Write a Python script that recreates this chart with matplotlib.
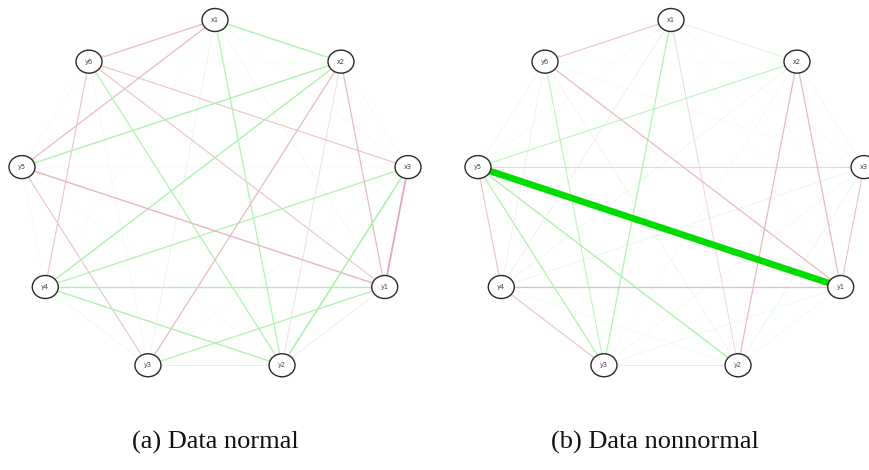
import numpy as np
import matplotlib
matplotlib.use("Agg")
import matplotlib.pyplot as plt
from matplotlib.patches import Ellipse

# ---- data ----
nodes = ["x1", "x2", "x3", "y1", "y2", "y3", "y4", "y5", "y6"]

edge_from = ["x1", "x1", "x1", "x1", "x1", "x1", "x1", "x1",
             "x2", "x2", "x2", "x2", "x2", "x2", "x2",
             "x3", "x3", "x3", "x3", "x3", "x3",
             "y1", "y1", "y1", "y1", "y1",
             "y2", "y2", "y2", "y2",
             "y3", "y3", "y3",
             "y4", "y4",
             "y5"]
edge_to = ["x2", "x3", "y1", "y2", "y3", "y4", "y5", "y6",
           "x3", "y1", "y2", "y3", "y4", "y5", "y6",
           "y1", "y2", "y3", "y4", "y5", "y6",
           "y2", "y3", "y4", "y5", "y6",
           "y3", "y4", "y5", "y6",
           "y4", "y5", "y6",
           "y5", "y6",
           "y6"]

weights_normal = [0.30, 0.05, 0.08, 0.28, -0.10, 0.05, -0.28, -0.28,
                  0.06, -0.28, -0.18, -0.28, 0.30, 0.30, 0.05,
                  -0.36, 0.32, 0.05, 0.28, 0.05, -0.25,
                  -0.12, 0.28, 0.30, -0.30, -0.25,
                  -0.15, 0.30, 0.05, 0.28,
                  0.10, -0.25, -0.05,
                  0.06, -0.25,
                  0.06]

weights_nonnormal = [0.18, 0.05, 0.05, -0.20, 0.28, -0.10, 0.06, -0.25,
                     0.08, -0.28, -0.28, 0.06, 0.10, 0.25, 0.05,
                     -0.25, 0.12, 0.08, 0.12, 0.25, 0.05,
                     0.08, 0.10, -0.28, 1.00, -0.28,
                     -0.18, 0.06, 0.30, -0.08,
                     -0.25, 0.28, 0.25,
                     -0.25, -0.10,
                     0.10]

captions = ["(a) Data normal", "(b) Data nonnormal"]

# ---- drawing ----
W, H = 870, 470
fig = plt.figure(figsize=(8.7, 4.7), dpi=100)
ax = fig.add_axes([0, 0, 1, 1])
ax.set_xlim(0, W)
ax.set_ylim(H, 0)
ax.axis("off")

pos_green = np.array([0.0, 0.86, 0.0])
neg_red = np.array([0.72, 0.12, 0.25])
white = np.array([1.0, 1.0, 1.0])


def circle_layout(cx, cy, rx, ry, n):
    ang = np.deg2rad(90 - 360.0 / n * np.arange(n))
    return {nm: (cx + rx * np.cos(a), cy - ry * np.sin(a)) for nm, a in zip(nodes, ang)}


def draw_net(cx, cy, weights, caption, capx):
    pos = circle_layout(cx, cy, 196, 178, len(nodes))
    order = np.argsort(np.abs(weights))
    for k in order:
        w = weights[k]
        a = abs(w)
        base = pos_green if w > 0 else neg_red
        strength = min(1.0, a * 1.1)
        col = white * (1 - strength) + base * strength
        lw = max(0.5, 4.8 * a ** 1.3)
        (x0, y0), (x1, y1) = pos[edge_from[k]], pos[edge_to[k]]
        ax.plot([x0, x1], [y0, y1], color=col, lw=lw, solid_capstyle="butt", zorder=1)
    for nm in nodes:
        x, y = pos[nm]
        ax.add_patch(Ellipse((x, y), 26, 23, facecolor="white", edgecolor="#2a2a2a",
                             lw=1.0, zorder=3))
        ax.text(x, y, nm, ha="center", va="center", fontsize=4.8, color="#444444", zorder=4)
    ax.text(capx, 442, caption, ha="center", va="center", fontsize=19,
            family="Liberation Serif", color="#111111")


draw_net(215, 198, weights_normal, captions[0], 215)
draw_net(671, 198, weights_nonnormal, captions[1], 655)

fig.savefig("out.png", dpi=100)
